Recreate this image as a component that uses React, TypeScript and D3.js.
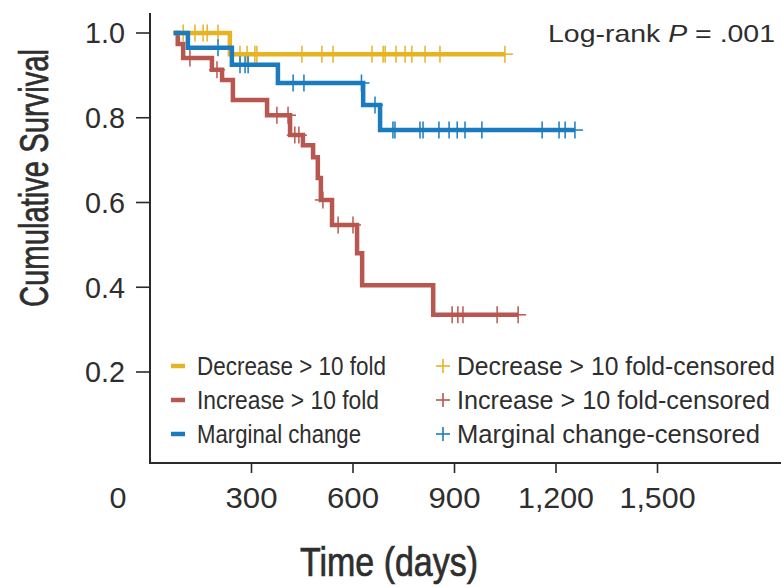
import React from "react";
import * as d3 from "d3";

// Kaplan–Meier steps: time (days) at which the curve changes and the survival after it
const decreaseTimes = [70, 236];
const decreaseSurv = [1.0, 0.95];
const decreaseEnd = 1049;
const decreaseCensored = [98, 133, 157, 169, 201, 266, 287, 310, 316, 449, 508, 541, 656, 689, 695, 727, 754, 774, 813, 857, 1049];

const increaseTimes = [70, 82, 98, 183, 213, 245, 346, 414, 452, 482, 496, 505, 538, 612, 627, 837];
const increaseSurv = [1.0, 0.974, 0.941, 0.913, 0.889, 0.842, 0.806, 0.759, 0.735, 0.707, 0.658, 0.606, 0.547, 0.48, 0.405, 0.335];
const increaseEnd = 1088;
const increaseCensored = [118, 198, 375, 408, 428, 440, 511, 556, 600, 893, 910, 925, 1026, 1088];

const marginalTimes = [70, 112, 242, 378, 630, 680];
const marginalSurv = [1.0, 0.965, 0.925, 0.882, 0.83, 0.771];
const marginalEnd = 1256;
const marginalCensored = [201, 266, 281, 290, 423, 455, 625, 665, 718, 724, 798, 807, 854, 884, 908, 931, 981, 1159, 1209, 1227, 1256];

const yTicks = [0.2, 0.4, 0.6, 0.8, 1.0];
const xTicks = [300, 600, 900, 1200, 1500];
const xTickLabels = ["300", "600", "900", "1,200", "1,500"];

const groupNames = ["Decrease > 10 fold", "Increase > 10 fold", "Marginal change"];
const censoredNames = ["Decrease > 10 fold-censored", "Increase > 10 fold-censored", "Marginal change-censored"];
const groupColors = ["#E6B325", "#B7574F", "#1A7BBF"];

const W = 781;
const H = 587;

const x = d3.scaleLinear().domain([0, 1865]).range([150, 781]);
const y = d3.scaleLinear().domain([0, 1]).range([456.75, 33]);

type Group = { times: number[]; surv: number[]; end: number; censored: number[]; color: string };

const groups: Group[] = [
  { times: increaseTimes, surv: increaseSurv, end: increaseEnd, censored: increaseCensored, color: groupColors[1] },
  { times: decreaseTimes, surv: decreaseSurv, end: decreaseEnd, censored: decreaseCensored, color: groupColors[0] },
  { times: marginalTimes, surv: marginalSurv, end: marginalEnd, censored: marginalCensored, color: groupColors[2] },
];

function survAt(g: Group, t: number) {
  let s = g.surv[0];
  for (let i = 0; i < g.times.length; i++) if (g.times[i] <= t) s = g.surv[i];
  return s;
}

const stepLine = d3
  .line<[number, number]>()
  .x((d) => x(d[0]))
  .y((d) => y(d[1]))
  .curve(d3.curveStepAfter);

const txt = "#2e2e2e";
const font = "'Liberation Sans', Arial, sans-serif";

// Condensed text: narrowed horizontally, then stretched to an exact width
function NarrowText(props: {
  x: number;
  y: number;
  width: number;
  size: number;
  anchor?: "start" | "middle" | "end";
  rotate?: number;
  sx?: number;
  dy?: string;
  heavy?: boolean;
  children: React.ReactNode;
}) {
  const sx = props.sx ?? 0.82;
  const rot = props.rotate ? ` rotate(${props.rotate})` : "";
  return (
    <text
      transform={`translate(${props.x},${props.y})${rot} scale(${sx},1)`}
      dy={props.dy ?? "0.36em"}
      textAnchor={props.anchor ?? "start"}
      fontSize={props.size}
      fill={txt}
      stroke={props.heavy ? txt : "none"}
      strokeWidth={props.heavy ? 0.7 : 0}
      textLength={props.width / sx}
      lengthAdjust="spacingAndGlyphs"
    >
      {props.children}
    </text>
  );
}

export default function App() {
  return (
    <svg width={W} height={H} style={{ position: "absolute", left: 0, top: 0, background: "#fff" }} fontFamily={font}>
      {/* axes */}
      <line x1={150} y1={13} x2={150} y2={463} stroke="#2a2a2a" strokeWidth={2} />
      <line x1={149} y1={463} x2={781} y2={463} stroke="#2a2a2a" strokeWidth={2} />
      {yTicks.map((v) => (
        <g key={v}>
          <line x1={136} x2={150} y1={y(v)} y2={y(v)} stroke="#2a2a2a" strokeWidth={1.6} />
          <NarrowText x={125} y={y(v)} width={40} size={29} anchor="end" sx={0.9}>
            {v.toFixed(1)}
          </NarrowText>
        </g>
      ))}
      {xTicks.map((v, i) => (
        <g key={v}>
          <line x1={x(v)} x2={x(v)} y1={463} y2={473} stroke="#2a2a2a" strokeWidth={1.6} />
          <NarrowText x={x(v)} y={498} width={xTickLabels[i].length > 3 ? 76 : 52} size={29} anchor="middle" sx={0.9}>
            {xTickLabels[i]}
          </NarrowText>
        </g>
      ))}
      <NarrowText x={118} y={498} width={17} size={29} anchor="middle" sx={0.9}>
        0
      </NarrowText>

      {/* axis titles */}
      <NarrowText x={48} y={178} width={258} size={40} anchor="middle" rotate={-90} dy="0" sx={0.75} heavy>
        Cumulative Survival
      </NarrowText>
      <NarrowText x={389} y={576} width={178} size={40} anchor="middle" dy="0" sx={0.75} heavy>
        Time (days)
      </NarrowText>

      {/* survival curves */}
      {groups.map((g, i) => {
        const pts: [number, number][] = g.times.map((t, k) => [t, g.surv[k]]);
        pts.push([g.end, g.surv[g.surv.length - 1]]);
        return (
          <g key={i}>
            <path d={stepLine(pts) || ""} fill="none" stroke={g.color} strokeWidth={4.5} />
            {g.censored.map((t, k) => {
              const cx = x(t);
              const cy = y(survAt(g, t));
              return (
                <g key={k} stroke={g.color} strokeWidth={1.5}>
                  <line x1={cx} x2={cx} y1={cy - 8.5} y2={cy + 8.5} />
                  <line x1={cx - 8} x2={cx + 8} y1={cy} y2={cy} />
                </g>
              );
            })}
          </g>
        );
      })}

      {/* log-rank annotation */}
      <NarrowText x={775} y={33} width={227} size={24} anchor="end" sx={0.9}>
        Log-rank <tspan fontStyle="italic">P</tspan> = .001
      </NarrowText>

      {/* legend */}
      {groupNames.map((name, i) => {
        const cy = 366 + i * 34;
        const w1 = [189, 182, 164][i];
        const w2 = [318, 313, 303][i];
        return (
          <g key={name}>
            <line x1={171} x2={185} y1={cy} y2={cy} stroke={groupColors[i]} strokeWidth={4.5} />
            <NarrowText x={197} y={cy} width={w1} size={26}>
              {name}
            </NarrowText>
            <g stroke={groupColors[i]} strokeWidth={1.6}>
              <line x1={443} x2={443} y1={cy - 7} y2={cy + 7} />
              <line x1={436} x2={450} y1={cy} y2={cy} />
            </g>
            <NarrowText x={457} y={cy} width={w2} size={26}>
              {censoredNames[i]}
            </NarrowText>
          </g>
        );
      })}
    </svg>
  );
}
